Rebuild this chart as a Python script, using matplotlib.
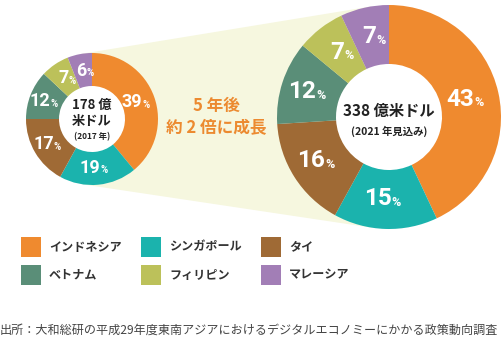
import numpy as np
import matplotlib
matplotlib.use("Agg")
import matplotlib.pyplot as plt
from matplotlib.patches import Polygon, Rectangle, Circle
from matplotlib import font_manager

plt.rcParams['font.family'] = ['Noto Sans CJK JP', 'DejaVu Sans']

countries = ["インドネシア", "シンガポール", "タイ", "ベトナム", "フィリピン", "マレーシア"]
colors = ["#ef8a2f", "#1bb3ad", "#9f6a35", "#5a8e78", "#bcc15a", "#a27eb6"]
share_2017 = [39, 19, 17, 12, 7, 6]
share_2021 = [43, 15, 16, 12, 7, 7]
center_2017 = ["178 億", "米ドル", "(2017 年)"]
center_2021 = ["338 億米ドル", "(2021 年見込み)"]
growth_text = ["5 年後", "約 2 倍に成長"]
source = "出所：大和総研の平成29年度東南アジアにおけるデジタルエコノミーにかかる政策動向調査"

names = {f.name for f in font_manager.fontManager.ttflist}
num_family = ["Liberation Sans Narrow"] if "Liberation Sans Narrow" in names else ["Roboto"]

W, H = 502, 342
fig = plt.figure(figsize=(W / 100, H / 100), dpi=100)
ax = fig.add_axes([0, 0, 1, 1])

def Y(y):
    return H - y

c1, r1, w1 = (92, Y(119)), 66, 33
c2, r2, w2 = (389, Y(117)), 112, 59

def tangents(ca, ra, cb, rb):
    ca, cb = np.array(ca, float), np.array(cb, float)
    d = cb - ca
    L = np.hypot(*d)
    base = np.arctan2(d[1], d[0])
    a = np.arccos((ra - rb) / L)
    pts = []
    for s in (1, -1):
        th = base + s * a
        n = np.array([np.cos(th), np.sin(th)])
        pts.append((ca + ra * n, cb + rb * n))
    return pts

(t1a, t1b), (t2a, t2b) = tangents(c1, r1, c2, r2)
ax.add_patch(Polygon([t1a, t1b, t2b, t2a], closed=True, facecolor="#f6f7df",
                     edgecolor="none", zorder=0))

def donut(vals, center, r, width, fs, pfs, lab_r):
    ax.add_patch(Circle(center, r - width + 0.5, facecolor="white", edgecolor="none", zorder=1))
    wedges, _ = ax.pie(vals, colors=colors, startangle=90, counterclock=False,
                       center=center, radius=r, frame=False,
                       wedgeprops=dict(width=width, edgecolor="none", linewidth=0, zorder=2))
    for w, v in zip(wedges, vals):
        ang = np.deg2rad((w.theta1 + w.theta2) / 2)
        x = center[0] + lab_r * np.cos(ang)
        y = center[1] + lab_r * np.sin(ang)
        ax.text(x + fs * 0.3, y, f"{v}", ha="right", va="center", color="white",
                fontsize=fs, fontweight="bold", family=num_family, zorder=5)
        ax.text(x + fs * 0.3, y - fs * 0.2, "%", ha="left", va="center", color="white",
                fontsize=pfs, fontweight="bold", family=num_family, zorder=5)

donut(share_2017, c1, r1, w1, 13, 7, 49)
donut(share_2021, c2, r2, w2, 17.5, 9, 82)

ax.text(c1[0], Y(105), center_2017[0], ha="center", va="center", fontsize=9.5,
        fontweight="bold", color="#222222", zorder=6)
ax.text(c1[0], Y(121), center_2017[1], ha="center", va="center", fontsize=9.5,
        fontweight="bold", color="#222222", zorder=6)
ax.text(c1[0], Y(137), center_2017[2], ha="center", va="center", fontsize=6,
        fontweight="bold", color="#222222", zorder=6)
ax.text(c2[0], Y(111), center_2021[0], ha="center", va="center", fontsize=11,
        fontweight="bold", color="#222222", zorder=6)
ax.text(c2[0], Y(131), center_2021[1], ha="center", va="center", fontsize=7.5,
        fontweight="bold", color="#222222", zorder=6)

ax.text(216, Y(106), growth_text[0], ha="center", va="center", fontsize=12,
        fontweight="bold", color="#ec8a30")
ax.text(216, Y(128), growth_text[1], ha="center", va="center", fontsize=12,
        fontweight="bold", color="#ec8a30")

for i, (name, col) in enumerate(zip(countries, colors)):
    row, colm = divmod(i, 3)
    x0 = 21 + colm * 120
    y0 = 237 + row * 28
    ax.add_patch(Rectangle((x0, Y(y0 + 20)), 20, 20, facecolor=col, edgecolor="none"))
    ax.text(x0 + 28, Y(y0 + 10), name, ha="left", va="center", fontsize=8.7,
            fontweight="bold", color="#333333")

ax.text(0, Y(330), source, ha="left", va="center", fontsize=8.7, color="#444444")

ax.set_xlim(0, W)
ax.set_ylim(0, H)
ax.set_aspect("auto")
ax.axis("off")
fig.savefig("out.png", dpi=100)
